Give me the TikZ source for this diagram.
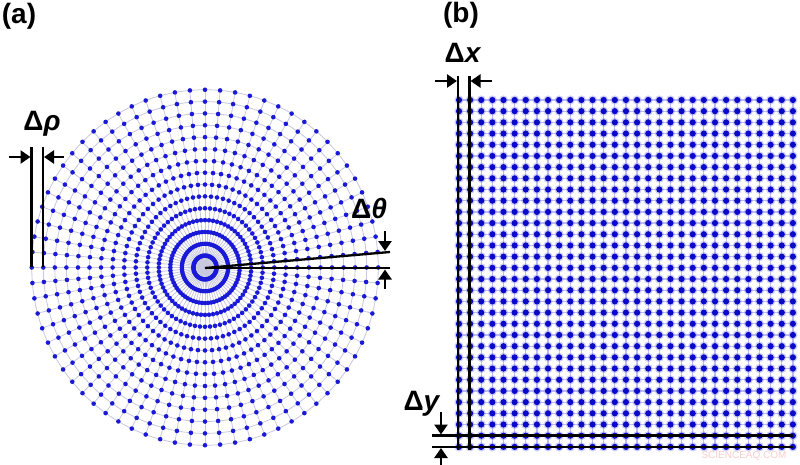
\documentclass[tikz,border=0pt]{standalone}
\usepackage{fontspec}
\setmainfont{Liberation Sans}
\usetikzlibrary{arrows.meta}
\definecolor{dotblue}{RGB}{25,25,215}
\definecolor{sqblue}{RGB}{10,10,200}
\definecolor{gridgray}{RGB}{200,200,222}
\definecolor{sqgrid}{RGB}{190,190,240}
\definecolor{halo}{RGB}{150,150,245}
\definecolor{wm}{RGB}{250,205,205}
\begin{document}
\begin{tikzpicture}[x=1pt,y=-1pt,
  lbl/.style={font=\fontsize{28}{30}\selectfont\bfseries, inner sep=0pt},
  dimline/.style={line width=2.3pt,black},
  dimarrow/.style={line width=2.8pt,black,-{Triangle[length=10pt,width=13pt]}},
]
\useasboundingbox (0,0) rectangle (800,465);
\fill[white] (0,0) rectangle (800,465);

% ---------- panel (a): polar grid ----------
\def\cx{205}\def\cy{267.5}
\coordinate (c) at (\cx,\cy);
\foreach \j in {0,...,71}{
  \draw[gridgray, line width=0.8pt] (c) -- ++({173*cos(5*\j)},{-177*sin(5*\j)});
}
\foreach \k in {1,...,15}{
  \draw[gridgray, line width=0.8pt] (c) ellipse [x radius={11.55*\k}, y radius={11.85*\k}];
}
\foreach \k in {1,...,15}{
  \foreach \j in {0,...,71}{
    \fill[dotblue] ({\cx+11.55*\k*cos(5*\j)},{\cy-11.85*\k*sin(5*\j)}) circle (2.3pt);
  }
}

% ---------- panel (b): square grid ----------
\foreach \i in {0,...,30}{
  \draw[sqgrid, line width=1.2pt] ({459+11.13*\i},100) -- ({459+11.13*\i},447);
}
\foreach \r in {0,...,31}{
  \draw[sqgrid, line width=1.2pt] (459,{100+11.19*\r}) -- (793,{100+11.19*\r});
}
\foreach \i in {0,...,30}{
  \foreach \r in {0,...,31}{
    \fill[halo, opacity=0.45] ({459+11.13*\i},{100+11.19*\r}) circle (4.6pt);
    \fill[sqblue] ({459+11.13*\i},{100+11.19*\r}) circle (3.1pt);
  }
}

% ---------- dimension marks (a) ----------
\coordinate (rhoA1) at (31.5,147); \coordinate (rhoA2) at (31.5,267);
\coordinate (rhoB1) at (43,147);   \coordinate (rhoB2) at (43,267);
\draw[dimline] (rhoA1) -- (rhoA2);
\draw[dimline] (rhoB1) -- (rhoB2);
\coordinate (rl0) at (9,157);  \coordinate (rl1) at (30.5,157);
\coordinate (rr0) at (64,157); \coordinate (rr1) at (44,157);
\draw[dimarrow] (rl0) -- (rl1);
\draw[dimarrow] (rr0) -- (rr1);

\coordinate (th1) at (390,268); \coordinate (th2) at (390,252);
\draw[dimline] (\cx,268) -- (th1);
\draw[dimline] (\cx,268) -- (th2);
\coordinate (td0) at (385,231); \coordinate (td1) at (385,251);
\coordinate (tu0) at (385,289); \coordinate (tu1) at (385,269.5);
\draw[dimarrow] (td0) -- (td1);
\draw[dimarrow] (tu0) -- (tu1);

% ---------- dimension marks (b) ----------
\coordinate (xa1) at (458,76);  \coordinate (xa2) at (458,450);
\coordinate (xb1) at (469.5,76); \coordinate (xb2) at (469.5,450);
\draw[dimline] (xa1) -- (xa2);
\draw[dimline] (xb1) -- (xb2);
\coordinate (xl0) at (435,81); \coordinate (xl1) at (457,81);
\coordinate (xr0) at (492,81); \coordinate (xr1) at (470.5,81);
\draw[dimarrow] (xl0) -- (xl1);
\draw[dimarrow] (xr0) -- (xr1);

\coordinate (ya1) at (432,435.5); \coordinate (ya2) at (793,435.5);
\coordinate (yb1) at (432,447);   \coordinate (yb2) at (793,447);
\draw[dimline] (ya1) -- (ya2);
\draw[dimline] (yb1) -- (yb2);
\coordinate (yd0) at (441,412); \coordinate (yd1) at (441,434.5);
\coordinate (yu0) at (441,470); \coordinate (yu1) at (441,448);
\draw[dimarrow] (yd0) -- (yd1);
\draw[dimarrow] (yu0) -- (yu1);

% ---------- labels ----------
\node[lbl] (la) at (19,16) {(a)};
\node[lbl] (lb) at (461,15) {(b)};
\node[lbl] (lrho) at (42,124) {Δ\textit{ρ}};
\node[lbl] (ltheta) at (369,208) {Δ\textit{θ}};
\node[lbl] (ldx) at (463,53) {Δ\textit{x}};
\node[lbl] (ldy) at (422,404) {Δ\textit{y}};
\node[font=\fontsize{10}{11}\selectfont, text=wm, inner sep=0pt] (wmark) at (744,456) {SCIENCEAQ.COM};
\end{tikzpicture}
\end{document}
